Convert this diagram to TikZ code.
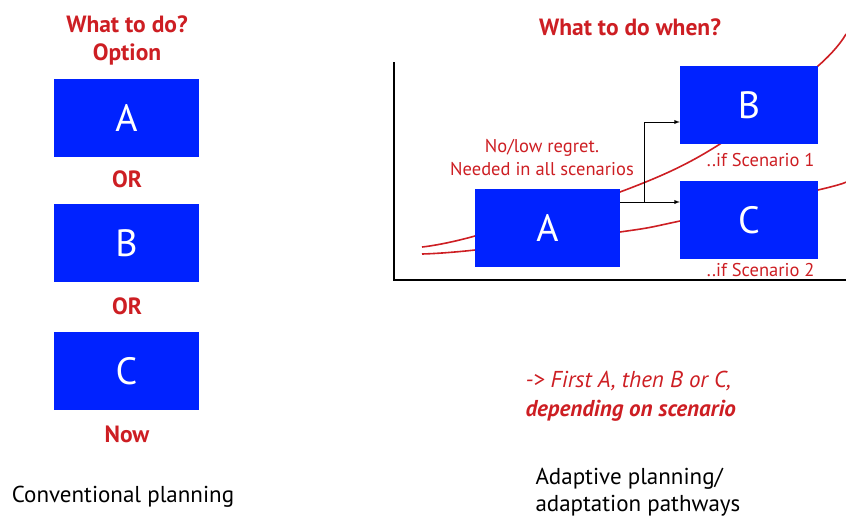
\documentclass[tikz,border=0pt]{standalone}
\usepackage{fontspec}
\setmainfont{PT Sans}
\definecolor{boxblue}{RGB}{0,34,255}
\definecolor{txtred}{RGB}{205,30,35}
\begin{document}
\begin{tikzpicture}[x=1pt,y=-1pt,
  optbox/.style={fill=boxblue,draw=none,inner sep=0pt,text=white,font=\fontsize{38}{40}\selectfont},
  redbold/.style={text=txtred,font=\fontsize{23.5}{28}\selectfont\bfseries,align=center},
  redlab/.style={text=txtred,font=\fontsize{18.5}{23}\selectfont},
  blacklab/.style={text=black,font=\fontsize{23}{27}\selectfont},
  conn/.style={draw=black,line width=0.9pt,-latex},
  curve/.style={draw=txtred,line width=1.6pt}]
\useasboundingbox (0,0) rectangle (846,517);
% left column
\node[redbold] (t1) at (127,40) {What to do?\\Option};
\node[optbox,minimum width=145pt,minimum height=78pt] (LA) at (126.5,118) {A};
\node[redbold] (or1) at (127,179) {OR};
\node[optbox,minimum width=145pt,minimum height=78pt] (LB) at (126.5,243) {B};
\node[redbold] (or2) at (127,306) {OR};
\node[optbox,minimum width=145pt,minimum height=78pt] (LC) at (126.5,371) {C};
\node[redbold] (now) at (127,434) {Now};
\node[blacklab] (conv) at (123,497) {Conventional planning};
% right panel
\node[redbold] (t2) at (630,27) {What to do when?};
\coordinate (ytop) at (394,62);
\coordinate (orig) at (394,280);
\coordinate (xend) at (846,280);
\draw[line width=1.6pt] (ytop) -- (orig) -- (xend);
% curves
\draw[curve] plot[smooth,tension=0.6] coordinates {(422,247) (475,236) (620,192) (720,144) (818,66) (846,34)};
\draw[curve] plot[smooth,tension=0.6] coordinates {(422,254) (475,250) (620,232) (680,221) (818,190) (846,182)};
% boxes
\node[optbox,minimum width=145pt,minimum height=78pt] (RA) at (547.5,228) {A};
\node[optbox,minimum width=138pt,minimum height=78pt] (RB) at (749,105) {B};
\node[optbox,minimum width=138pt,minimum height=78pt] (RC) at (749,220) {C};
\coordinate (split) at (644,202);
\draw[line width=0.9pt] (RA.east |- split) -- (split);
\draw[conn] (split) -- (RC.west |- split);
\draw[conn] (split) |- (RB.west |- 0,122);
\node[redlab,align=center] (nl) at (542,158) {No/low regret.\\Needed in all scenarios};
\node[redlab,anchor=east] (s1) at (818,160) {..if Scenario 1};
\node[redlab,anchor=east] (s2) at (818,270) {..if Scenario 2};
\node[text=txtred,font=\fontsize{23}{29}\selectfont,align=left,anchor=west] (concl) at (522,396) {\itshape -> First A, then B or C,\\\bfseries\itshape depending on scenario};
\node[blacklab,align=left,anchor=west] (adapt) at (532,492) {Adaptive planning/\\adaptation pathways};
\end{tikzpicture}
\end{document}
